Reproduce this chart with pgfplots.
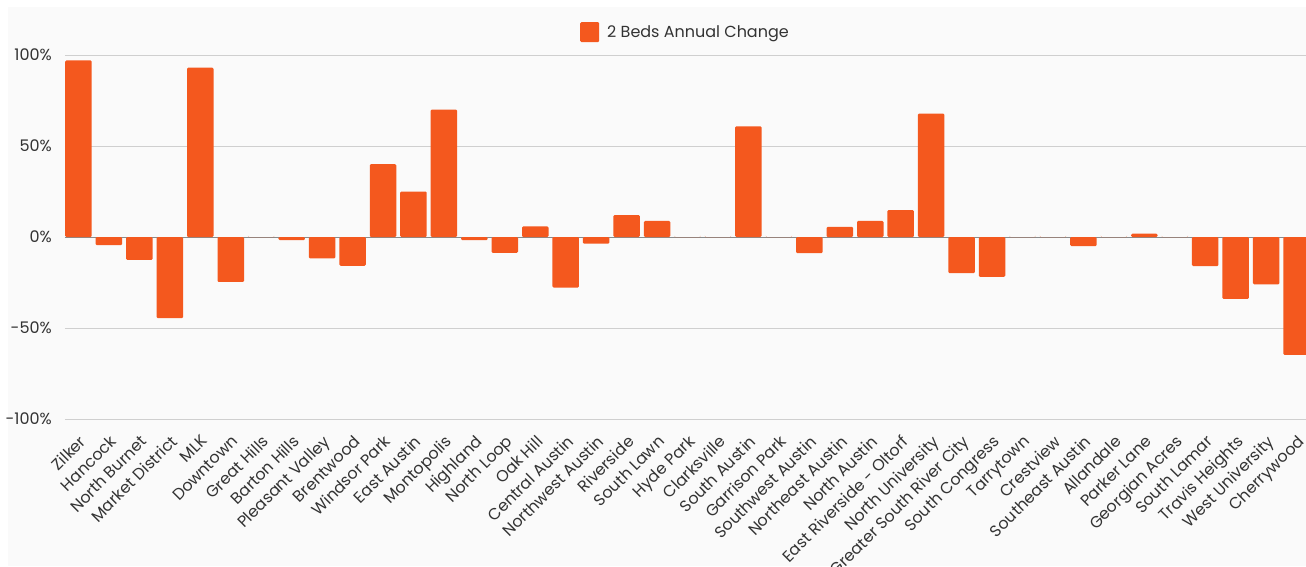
\documentclass[border=0pt]{standalone}
\usepackage{pgfplots}
\usepackage{pgfplotstable}
\pgfplotsset{compat=1.18}
\usepackage{fontspec}
\setmainfont{Poppins}

\definecolor{barorange}{HTML}{F4581E}
\definecolor{panel}{HTML}{FAFAFA}
\definecolor{gridgray}{HTML}{CFCFCF}
\definecolor{zerogray}{HTML}{8A8A8A}
\definecolor{labelgray}{HTML}{333333}

% Annual change of 2-bed rents by neighbourhood, in percent
\pgfplotstableread{
idx value
0 97
1 -4.5
2 -12.6
3 -44.6
4 93
5 -24.7
6 0
7 -1.7
8 -11.8
9 -15.8
10 40
11 25
12 70
13 -1.7
14 -8.7
15 5.8
16 -27.8
17 -3.7
18 12
19 8.8
20 0
21 0
22 60.8
23 0
24 -8.9
25 5.6
26 8.8
27 14.8
28 67.8
29 -19.9
30 -21.9
31 0
32 0
33 -5
34 0
35 1.8
36 0
37 -16
38 -34
39 -26
40 -64.8
}\changetable

\begin{document}
\begin{tikzpicture}[x=1pt,y=1pt]
\fill[white] (0,0) rectangle (1306,566);
\clip (0,0) rectangle (1306,566);
\fill[panel] (8,0) rectangle (1306,559);
\begin{axis}[
  at={(65pt,147pt)}, anchor=south west,
  scale only axis, width=1241pt, height=364pt,
  xmin=-0.443, xmax=40.31, ymin=-100, ymax=100,
  axis line style={draw=none},
  major tick length=0pt,
  ybar, bar width=26.5pt, bar shift=0pt,
  ytick={-100,-50,0,50,100},
  yticklabels={-100\%,-50\%,0\%,50\%,100\%},
  ymajorgrids, grid style={gridgray, line width=1pt},
  extra y ticks={0}, extra y tick labels={},
  extra y tick style={grid style={zerogray, line width=1pt}},
  yticklabel style={font=\fontsize{16}{19}\selectfont, text=labelgray, inner sep=0pt, xshift=-13pt},
  xtick={0,...,40},
  xticklabels={Zilker,Hancock,North Burnet,Market District,MLK,Downtown,Great Hills,Barton Hills,Pleasant Valley,Brentwood,Windsor Park,East Austin,Montopolis,Highland,North Loop,Oak Hill,Central Austin,Northwest Austin,Riverside,South Lawn,Hyde Park,Clarksville,South Austin,Garrison Park,Southwest Austin,Northeast Austin,North Austin,East Riverside - Oltorf,North University,Greater South River City,South Congress,Tarrytown,Crestview,Southeast Austin,Allandale,Parker Lane,Georgian Acres,South Lamar,Travis Heights,West University,Cherrywood},
  xticklabel style={font=\fontsize{16}{19}\selectfont, text=labelgray, inner sep=0pt, xshift=0pt, yshift=-15pt, rotate=45, anchor=north east},
  legend style={at={(0.5,1.063)}, anchor=center, draw=none, fill=none,
    font=\fontsize{16}{19}\selectfont, text=labelgray,
    /tikz/every odd column/.append style={column sep=6pt}},
  legend image code/.code={\fill[barorange] (0pt,-10pt) rectangle (19pt,10pt);},
]
\addplot[fill=barorange, draw=none, rounded corners=1.2pt] table[x=idx, y=value] {\changetable};
\addlegendentry{2 Beds Annual Change}
\end{axis}
\end{tikzpicture}
\end{document}
